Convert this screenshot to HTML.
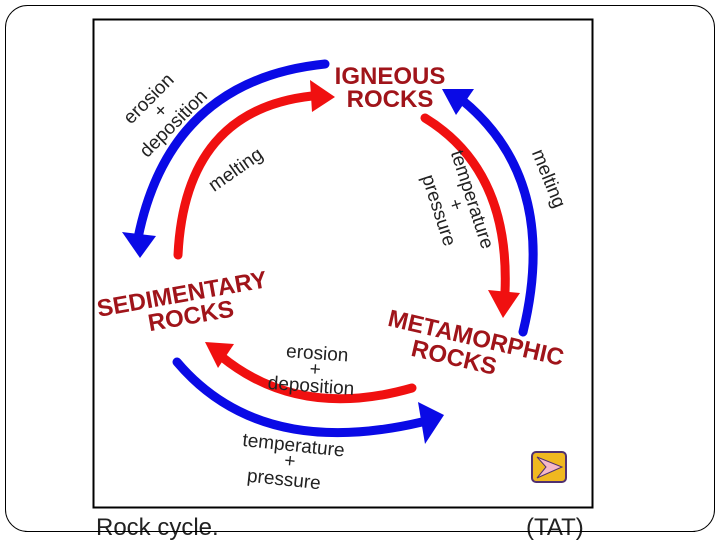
<!DOCTYPE html>
<html><head><style>
body{margin:0;background:#fff;width:720px;height:540px;overflow:hidden}
svg{display:block}
text{font-family:"Liberation Sans",Arial,sans-serif}
.t{font-weight:bold;fill:#a0141a;font-size:24px}
.s{font-size:19px;fill:#222}
</style></head><body>
<svg width="720" height="540" viewBox="0 0 720 540">
<rect x="5.5" y="5.5" width="709" height="526" rx="22" fill="#fff" stroke="#000" stroke-width="1"/>
<rect x="93.5" y="19.5" width="499" height="488" fill="#fff" stroke="#000" stroke-width="2"/>
<g fill="none" stroke-width="9" stroke-linecap="round">
<path d="M325,64 Q170,80 138,238" stroke="#0a0ae6"/>
<path d="M178,255 Q185,110 312,96" stroke="#f01010"/>
<path d="M425,118 Q510,170 505,292" stroke="#f01010"/>
<path d="M523,332 Q560,180 462,100" stroke="#0a0ae6"/>
<path d="M412,388 Q300,420 222,357" stroke="#f01010"/>
<path d="M177,362 Q260,460 422,422" stroke="#0a0ae6"/>
</g>
<polygon points="122,232 156,236 140,258" fill="#0a0ae6"/>
<polygon points="310,80 335,97 312,112" fill="#f01010"/>
<polygon points="488,290 520,293 503,318" fill="#f01010"/>
<polygon points="442,89 474,89 456,115" fill="#0a0ae6"/>
<polygon points="205,342 234,344 218,368" fill="#f01010"/>
<polygon points="444,415 418,402 425,444" fill="#0a0ae6"/>
<text class="t" x="390" y="84" text-anchor="middle">IGNEOUS</text>
<text class="t" x="390" y="107" text-anchor="middle">ROCKS</text>
<g transform="rotate(-10 183 300)"><text class="t" x="183" y="302" text-anchor="middle">SEDIMENTARY</text><text class="t" x="188" y="325" text-anchor="middle">ROCKS</text></g>
<g transform="rotate(13 470 355)"><text class="t" x="472" y="345" text-anchor="middle">METAMORPHIC</text><text class="t" x="455" y="369" text-anchor="middle">ROCKS</text></g>
<g transform="rotate(-45 165 115)"><text class="s" x="165" y="98" text-anchor="middle">erosion</text><text class="s" x="165" y="115" text-anchor="middle">+</text><text class="s" x="165" y="133" text-anchor="middle">deposition</text></g>
<text class="s" transform="rotate(-35 238 173)" x="238" y="175" text-anchor="middle">melting</text>
<g transform="rotate(72 455 205)"><text class="s" x="455" y="193" text-anchor="middle">temperature</text><text class="s" x="455" y="210" text-anchor="middle">+</text><text class="s" x="455" y="228" text-anchor="middle">pressure</text></g>
<text class="s" transform="rotate(68 545 180)" x="545" y="182" text-anchor="middle">melting</text>
<g transform="rotate(4 312 372)"><text class="s" x="316" y="359" text-anchor="middle">erosion</text><text class="s" x="315" y="375" text-anchor="middle">+</text><text class="s" x="312" y="392" text-anchor="middle">deposition</text></g>
<g transform="rotate(6 290 460)"><text class="s" x="292" y="451" text-anchor="middle">temperature</text><text class="s" x="290" y="467" text-anchor="middle">+</text><text class="s" x="286" y="486" text-anchor="middle">pressure</text></g>
<rect x="532" y="452" width="34" height="30" rx="4" fill="#f0b820" stroke="#503070" stroke-width="2"/>
<polygon points="537,457 562,467 537,478 546,467" fill="#f5b8c8" stroke="#503070" stroke-width="1"/>
<text x="96" y="535" font-size="24" fill="#222">Rock cycle.</text>
<text x="526" y="535" font-size="24" fill="#222">(TAT)</text>
<line x1="25" y1="531.5" x2="695" y2="531.5" stroke="#000" stroke-width="1"/>
</svg>
</body></html>
